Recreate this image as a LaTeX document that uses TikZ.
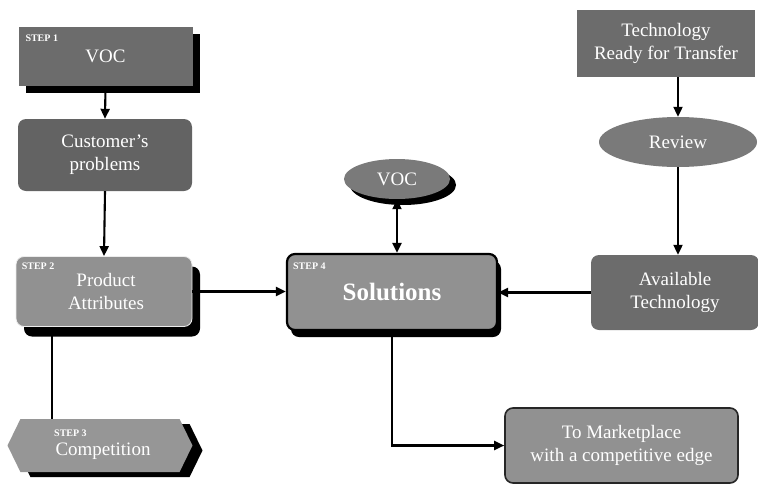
\documentclass[tikz,border=0pt]{standalone}
\usepackage{fontspec}
\setmainfont{Liberation Serif}
\usetikzlibrary{arrows.meta,shapes.geometric,shapes.symbols,shadows}

\definecolor{boxdark}{RGB}{108,108,108}
\definecolor{boxmid}{RGB}{122,122,122}
\definecolor{boxlight}{RGB}{145,145,145}

\tikzset{
  base/.style={inner sep=2pt, text=white, align=center,
    font=\fontsize{19}{23}\selectfont},
  sqbox/.style={base, rectangle},
  rbox/.style={base, rectangle, rounded corners=8pt},
  oval/.style={base, ellipse, inner sep=0pt},
  blackshadow/.style={drop shadow={shadow xshift=#1, shadow yshift=-#1,
    fill=black, opacity=1}},
  steplabel/.style={text=white, inner sep=0pt,
    font=\fontsize{10}{11}\selectfont\bfseries},
  tip/.style={Triangle[length=10pt,width=9pt]},
  arr/.style={line width=2.1pt, -{Triangle[length=10pt,width=9pt]}},
  dblarr/.style={line width=2.1pt,
    {Triangle[length=10pt,width=9pt]}-{Triangle[length=10pt,width=9pt]}},
  thinline/.style={line width=1.2pt},
}

\begin{document}
\begin{tikzpicture}[x=1pt,y=-1pt]
\useasboundingbox (0,0) rectangle (758,485);

% left column
\node[sqbox, fill=boxdark, minimum width=174pt, minimum height=59pt,
      blackshadow=7pt] (voc1) at (105.5,56.5) {VOC};
\node[steplabel, anchor=north west] (s1) at ([shift={(7,8)}]voc1.north west) {STEP 1};

\node[rbox, fill=boxdark!92!black, minimum width=174pt, minimum height=72pt]
      (cust) at (105,155) {Customer’s\\problems};

\node[rbox, fill=boxlight, draw=white!85!gray, line width=0.8pt,
      minimum width=176pt, minimum height=70pt,
      drop shadow={shadow xshift=8pt, shadow yshift=-10pt, fill=black, opacity=1}]
      (prod) at (104,291.5) {\hspace*{4pt}Product\\\hspace*{4pt}Attributes};
\node[steplabel, anchor=north west] (s2) at ([shift={(6,7)}]prod.north west) {STEP 2};

% hexagonal competition panel, its texts set on top
\node[signal, signal to=west and east, signal pointer angle=128,
      fill=boxlight!95!white, minimum width=185pt, minimum height=53pt,
      drop shadow={shadow xshift=10pt, shadow yshift=-5pt, fill=black, opacity=1}]
      (comp) at (100,445.5) {};
\node[base] (comptext) at ([shift={(3,6)}]comp.center) {Competition};
\node[steplabel, anchor=north west] (s3) at ([shift={(-46,11)}]comp.north) {STEP 3};

% centre
\node[oval, fill=boxmid, minimum width=106pt, minimum height=40pt,
      blackshadow=6pt] (voc2) at (397,179) {VOC};

\node[rbox, fill=boxlight, draw=black, line width=2.2pt,
      minimum width=210pt, minimum height=76pt,
      drop shadow={shadow xshift=4pt, shadow yshift=-7pt, fill=black, opacity=1}]
      (sol) at (392,292) {\fontsize{25}{28}\selectfont\bfseries Solutions};
\node[steplabel, anchor=north west] (s4) at ([shift={(7,10)}]sol.north west) {STEP 4};

% right column
\node[sqbox, fill=boxdark, minimum width=178pt, minimum height=67pt]
      (tech) at (666,43.5) {Technology\\Ready for Transfer};

\node[oval, fill=boxmid, minimum width=158pt, minimum height=50pt]
      (rev) at (678,142) {Review};

\node[rbox, fill=boxdark, minimum width=168pt, minimum height=75pt]
      (avail) at (675,292.5) {Available\\Technology};

\node[rbox, fill=boxlight, draw=black!85, line width=1.6pt,
      minimum width=233pt, minimum height=75pt]
      (mkt) at (621.5,445.5) {To Marketplace\\with a competitive edge};

% connectors
\draw[arr] (voc1.south) -- (cust.north);
\draw[arr] (cust.south) -- (prod.north);
\draw[arr] (prod.east) -- (prod.east -| sol.west);
\draw[thinline] ([xshift=-52pt]prod.south) -- ([xshift=-52pt]prod.south |- comp.north);
\draw[dblarr] (voc2.south) -- (voc2.south |- sol.north);
\draw[arr] (rev.north |- tech.south) -- (rev.north);
\draw[arr] (rev.south) -- (rev.south |- avail.north);
\draw[arr] (avail.west) -- (avail.west -| sol.east);
\draw[arr] (sol.south) |- (mkt.west);
\end{tikzpicture}
\end{document}
